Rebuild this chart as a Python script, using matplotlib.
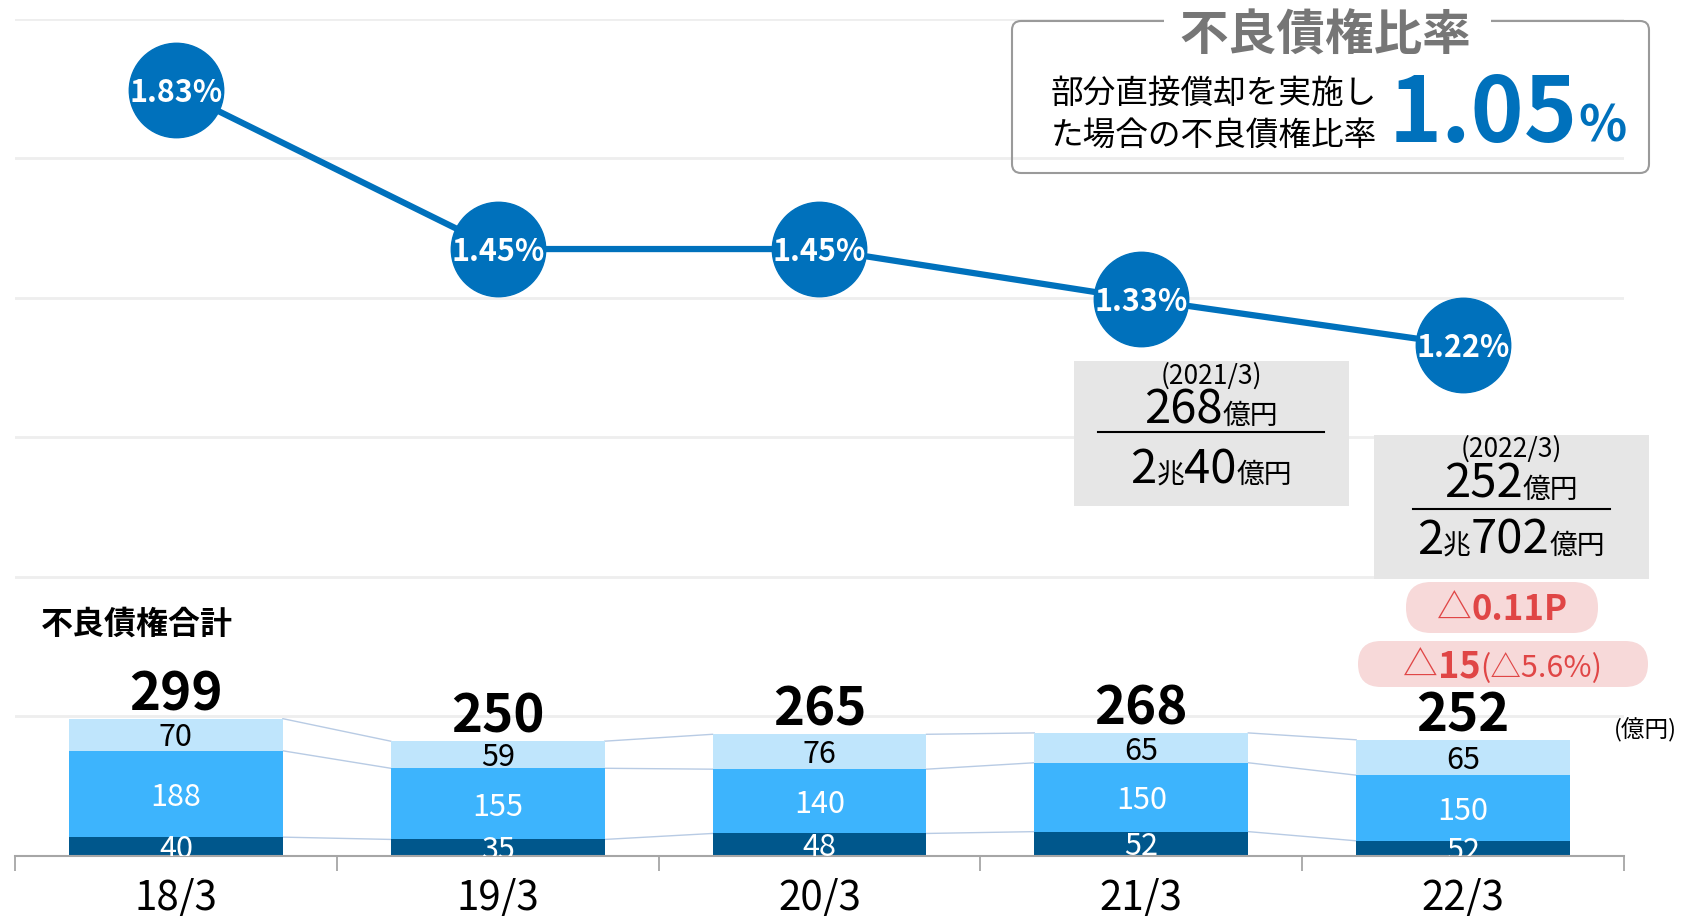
import numpy as np
import matplotlib.pyplot as plt
from matplotlib.patches import FancyBboxPatch, Rectangle
from matplotlib.lines import Line2D
from matplotlib.transforms import IdentityTransform, offset_copy

plt.rcParams['font.family'] = ['Noto Sans CJK JP', 'DejaVu Sans']

periods = ['18/3', '19/3', '20/3', '21/3', '22/3']
npl_ratio = [1.83, 1.45, 1.45, 1.33, 1.22]
# segment heights as drawn in the picture
seg_low = [40, 35, 48, 52, 32]
seg_mid = [188, 155, 140, 150, 143]
seg_high = [70, 59, 76, 65, 77]
# labels as printed
lbl_low = ['40', '35', '48', '52', '52']
lbl_mid = ['188', '155', '140', '150', '150']
lbl_high = ['70', '59', '76', '65', '65']
totals = [299, 250, 265, 268, 252]

W, H = 1682, 916
fig = plt.figure(figsize=(W / 100, H / 100), dpi=100)
R = fig.canvas.get_renderer()
PX = IdentityTransform()

ax = fig.add_axes([15 / W, (H - 855.5) / H, (1624 - 15) / W, (855.5 - 19) / H])
ax2 = ax.twinx()

x = np.arange(len(periods))
bw = 0.665
c_low, c_mid, c_high = '#00578C', '#3DB4FD', '#BFE5FC'
blue = '#0071BC'

low = np.array(seg_low)
mid = low + np.array(seg_mid)
top = mid + np.array(seg_high)
ax.bar(x, seg_low, bw, color=c_low, zorder=2)
ax.bar(x, seg_mid, bw, bottom=low, color=c_mid, zorder=2)
ax.bar(x, seg_high, bw, bottom=mid, color=c_high, zorder=2)

# thin connectors between bars
for lev in [low, mid, top]:
    for i in range(len(x) - 1):
        ax.plot([x[i] + bw / 2, x[i + 1] - bw / 2], [lev[i], lev[i + 1]],
                color='#B8CBE4', lw=1, zorder=1)

# nudge centred digits down a little (CJK font line box sits high)
tr = offset_copy(ax.transData, fig=fig, y=-2.3, units='points')
for i in range(len(x)):
    ax.text(x[i], low[i] / 2, lbl_low[i], ha='center', va='center', fontsize=22,
            color='white', zorder=3, clip_on=True, transform=tr)
    ax.text(x[i], (low[i] + mid[i]) / 2, lbl_mid[i], ha='center', va='center',
            fontsize=22, color='white', zorder=3, transform=tr)
    ax.text(x[i], (mid[i] + top[i]) / 2, lbl_high[i], ha='center', va='center',
            fontsize=22, color='black', zorder=3, transform=tr)
    ax.annotate(str(totals[i]), (x[i], top[i]), xytext=(0, 6), textcoords='offset points',
                ha='center', va='baseline', fontsize=38, fontweight='bold', zorder=3)

ax.set_xlim(-0.5, 4.5)
ax.set_ylim(0, 1822)
ax.set_yticks(np.linspace(0, 1822, 7))
ax.yaxis.grid(True, color='#EEEEEE', lw=2)
ax.tick_params(axis='y', length=0, labelleft=False)
ax.set_xticks(x)
ax.set_xticklabels(periods, fontsize=29)
ax.set_xticks(np.arange(-0.5, 5, 1), minor=True)
ax.tick_params(axis='x', which='major', length=0, pad=16)
ax.tick_params(axis='x', which='minor', length=11, width=1.3, color='#A6A6A6')
for s in ['top', 'left', 'right']:
    ax.spines[s].set_visible(False)
ax.spines['bottom'].set_color('#A6A6A6')
ax.spines['bottom'].set_linewidth(1.5)

# ratio line
ax2.set_ylim(0, 2.0)
ax2.set_axis_off()
ax2.plot(x, npl_ratio, color=blue, lw=4.5, marker='o', ms=68, mec=blue, clip_on=False)
tr2 = offset_copy(ax2.transData, fig=fig, y=-2.3, units='points')
for i in range(len(x)):
    ax2.text(x[i], npl_ratio[i], '%.2f%%' % npl_ratio[i], ha='center', va='center',
             fontsize=22, fontweight='bold', color='white', transform=tr2)


def ftext(px, py, s, **kw):
    return fig.text(px / W, 1 - py / H, s, **kw)


def runs(xc, base, parts, color='black', align='center'):
    objs = []
    total = 0
    for s, size, weight in parts:
        t = fig.text(0, 0, s, fontsize=size, fontweight=weight, color=color,
                     ha='left', va='baseline')
        w = t.get_window_extent(R).width
        objs.append((t, w))
        total += w
    cur = xc - total / 2 if align == 'center' else xc
    for t, w in objs:
        t.set_position((cur / W, 1 - base / H))
        cur += w


# top-right box
fig.add_artist(FancyBboxPatch((1012, H - 173), 637, 152,
                              boxstyle='round,pad=0,rounding_size=9', transform=PX,
                              fc='none', ec='#9A9A9A', lw=1.5))
fig.add_artist(Rectangle((1164, H - 30), 327, 16, transform=PX, fc='white', ec='none'))
ftext(1325, 36, '不良債権比率', ha='center', va='center', fontsize=35,
      fontweight='bold', color='#767676')
ftext(1051, 94, '部分直接償却を実施し', va='center', fontsize=23.5)
ftext(1051, 136, 'た場合の不良債権比率', va='center', fontsize=23.5)
runs(1389, 142, [('1.05', 65, 'bold'), ('%', 36, 'bold')], color=blue, align='left')

# grey boxes
fig.add_artist(Rectangle((1074, H - 506), 275, 145, transform=PX, fc='#E6E6E6', ec='none'))
fig.add_artist(Rectangle((1374, H - 579), 275, 144, transform=PX, fc='#E6E6E6', ec='none'))
fig.add_artist(Line2D([1098, 1324], [H - 432, H - 432], transform=PX, color='black', lw=1.5))
fig.add_artist(Line2D([1413, 1610], [H - 509, H - 509], transform=PX, color='black', lw=1.5))
runs(1211, 384, [('(2021/3)', 19, 'normal')])
runs(1211, 424, [('268', 34, 'normal'), ('億円', 20, 'normal')])
runs(1211, 483, [('2', 34, 'normal'), ('兆', 20, 'normal'), ('40', 34, 'normal'),
                 ('億円', 20, 'normal')])
runs(1511, 457, [('(2022/3)', 19, 'normal')])
runs(1511, 498, [('252', 34, 'normal'), ('億円', 20, 'normal')])
runs(1511, 554, [('2', 34, 'normal'), ('兆', 20, 'normal'), ('702', 34, 'normal'),
                 ('億円', 20, 'normal')])

# pink pills
red = '#E04646'
fig.add_artist(FancyBboxPatch((1406, H - 633), 192, 51,
                              boxstyle='round,pad=0,rounding_size=25', transform=PX,
                              fc='#F7D9D9', ec='none'))
fig.add_artist(FancyBboxPatch((1358, H - 687), 290, 46,
                              boxstyle='round,pad=0,rounding_size=23', transform=PX,
                              fc='#F7D9D9', ec='none'))
runs(1502, 620, [('△', 25, 'normal'), ('0.11P', 25, 'bold')], color=red)
runs(1503, 677, [('△', 25, 'normal'), ('15', 26, 'bold'), ('(△5.6%)', 22, 'normal')],
     color=red)

ftext(41, 625, '不良債権合計', va='center', fontsize=23, fontweight='bold')
ftext(1645, 730, '(億円)', ha='center', va='center', fontsize=17)

fig.savefig('out.png', dpi=100)
